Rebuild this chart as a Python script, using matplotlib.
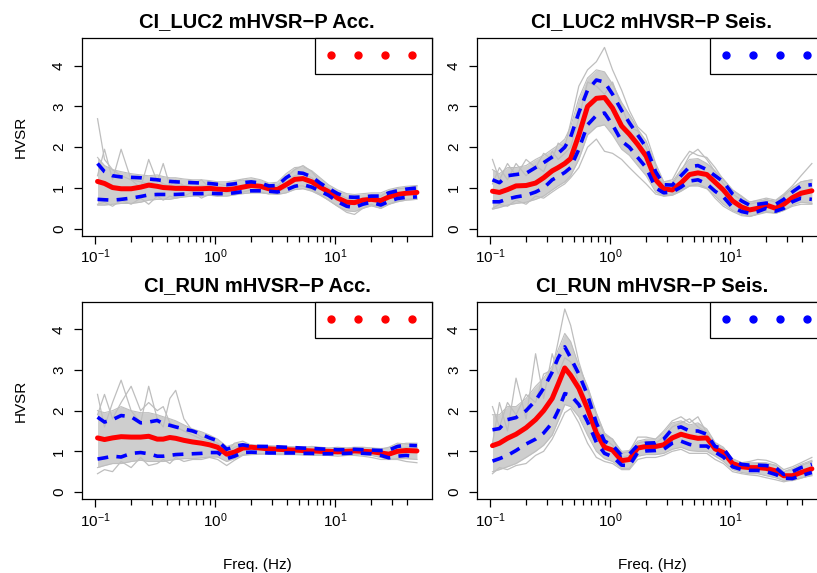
import matplotlib
matplotlib.use('Agg')
import matplotlib.pyplot as plt
from matplotlib.lines import Line2D
from matplotlib.ticker import FixedLocator, NullFormatter, LogFormatterSciNotation

plt.rcParams['font.family'] = ['Liberation Sans', 'DejaVu Sans']
plt.rcParams['mathtext.fontset'] = 'custom'
plt.rcParams['mathtext.rm'] = 'Liberation Sans'
plt.rcParams['mathtext.it'] = 'Liberation Sans:italic'
plt.rcParams['mathtext.bf'] = 'Liberation Sans:bold'

#%% data
freq = [0.105, 0.12, 0.14, 0.165, 0.2, 0.24, 0.28, 0.33, 0.37, 0.42, 0.47, 0.55, 0.65,
        0.77, 0.9, 1.05, 1.25, 1.45, 1.7, 2.0, 2.4, 2.8, 3.3, 3.9, 4.6, 5.4, 6.4, 7.5,
        8.8, 10.5, 12.5, 14.5, 17, 20, 24, 28, 33, 39, 48]

titles = ['CI_LUC2 mHVSR\u2212P Acc.', 'CI_LUC2 mHVSR\u2212P Seis.',
          'CI_RUN mHVSR\u2212P Acc.', 'CI_RUN mHVSR\u2212P Seis.']
legend_colors = ['red', 'blue', 'red', 'blue']

# CI_LUC2 acc
luc2_acc_mean = [1.16, 1.11, 1.01, 0.98, 0.98, 1.02, 1.07, 1.04, 1.01, 1.0, 0.99, 0.99, 0.98, 0.98, 0.99, 0.97, 0.96, 0.98, 1.02, 1.06, 1.04, 0.98, 0.96, 1.08, 1.21, 1.23, 1.15, 1.02, 0.91, 0.75, 0.65, 0.64, 0.70, 0.72, 0.69, 0.78, 0.84, 0.87, 0.89]
luc2_acc_up = [1.60, 1.40, 1.30, 1.27, 1.26, 1.25, 1.22, 1.20, 1.18, 1.16, 1.15, 1.14, 1.13, 1.12, 1.11, 1.09, 1.08, 1.10, 1.13, 1.15, 1.12, 1.05, 1.06, 1.25, 1.38, 1.36, 1.27, 1.12, 0.99, 0.86, 0.78, 0.77, 0.78, 0.80, 0.80, 0.88, 0.93, 0.97, 1.0]
luc2_acc_lo = [0.72, 0.71, 0.70, 0.72, 0.75, 0.79, 0.83, 0.84, 0.84, 0.84, 0.84, 0.85, 0.86, 0.86, 0.87, 0.86, 0.86, 0.88, 0.91, 0.93, 0.93, 0.92, 0.90, 0.95, 1.04, 1.08, 1.02, 0.92, 0.82, 0.66, 0.55, 0.52, 0.60, 0.65, 0.58, 0.67, 0.74, 0.77, 0.78]
luc2_acc_band_hi = [1.75, 1.55, 1.45, 1.4, 1.35, 1.32, 1.3, 1.32, 1.28, 1.25, 1.25, 1.22, 1.2, 1.2, 1.18, 1.15, 1.15, 1.18, 1.22, 1.25, 1.2, 1.12, 1.14, 1.35, 1.5, 1.52, 1.42, 1.25, 1.08, 0.95, 0.86, 0.84, 0.86, 0.88, 0.88, 0.96, 1.01, 1.04, 1.06]
luc2_acc_band_lo = [0.58, 0.58, 0.6, 0.62, 0.62, 0.65, 0.7, 0.72, 0.72, 0.72, 0.75, 0.78, 0.8, 0.8, 0.82, 0.8, 0.8, 0.83, 0.86, 0.88, 0.88, 0.86, 0.84, 0.88, 0.96, 0.98, 0.92, 0.82, 0.7, 0.55, 0.44, 0.42, 0.5, 0.56, 0.5, 0.6, 0.66, 0.7, 0.72]
luc2_acc_gray = [
    [2.7, 1.7, 1.45, 1.3, 1.2, 1.15, 1.1, 1.2, 1.1, 1.05, 1.08, 1.05, 1.0, 1.05, 1.05, 1.0, 0.98, 1.0, 1.05, 1.1, 1.05, 0.98, 1.0, 1.15, 1.3, 1.35, 1.25, 1.05, 0.95, 0.8, 0.68, 0.68, 0.75, 0.78, 0.72, 0.82, 0.88, 0.9, 0.92],
    [1.3, 1.95, 1.2, 1.95, 1.2, 1.0, 1.7, 1.15, 1.6, 1.05, 1.2, 1.05, 1.1, 1.2, 1.0, 1.1, 1.05, 1.15, 1.2, 1.1, 1.08, 1.05, 1.05, 1.25, 1.45, 1.55, 1.4, 1.15, 1.0, 0.85, 0.75, 0.7, 0.75, 0.8, 0.8, 0.92, 0.98, 1.0, 1.05],
    [0.6, 0.65, 0.55, 0.7, 0.6, 0.75, 0.6, 0.8, 0.7, 0.8, 0.75, 0.8, 0.9, 0.75, 0.85, 0.8, 0.9, 0.85, 0.9, 0.95, 0.9, 0.85, 0.9, 1.0, 1.05, 1.05, 0.95, 0.85, 0.7, 0.55, 0.4, 0.35, 0.5, 0.6, 0.5, 0.6, 0.68, 0.72, 0.75],
]

# CI_LUC2 seis
luc2_seis_mean = [0.92, 0.89, 0.96, 1.05, 1.06, 1.12, 1.25, 1.42, 1.5, 1.6, 1.72, 2.3, 3.0, 3.2, 3.22, 2.96, 2.52, 2.32, 2.07, 1.78, 1.2, 0.98, 0.95, 1.12, 1.33, 1.37, 1.33, 1.14, 0.95, 0.68, 0.53, 0.46, 0.5, 0.58, 0.5, 0.6, 0.76, 0.87, 0.93]
luc2_seis_up = [1.2, 1.13, 1.3, 1.33, 1.36, 1.5, 1.62, 1.76, 1.85, 2.0, 2.25, 2.85, 3.4, 3.65, 3.6, 3.3, 2.9, 2.6, 2.3, 2.0, 1.4, 1.08, 1.07, 1.3, 1.52, 1.55, 1.45, 1.3, 1.15, 0.85, 0.68, 0.58, 0.6, 0.63, 0.6, 0.72, 0.9, 1.05, 1.08]
luc2_seis_lo = [0.66, 0.66, 0.73, 0.78, 0.82, 0.9, 1.0, 1.2, 1.28, 1.38, 1.5, 1.95, 2.55, 2.78, 2.84, 2.55, 2.15, 2.0, 1.75, 1.5, 1.0, 0.88, 0.9, 1.02, 1.17, 1.2, 1.1, 0.92, 0.78, 0.52, 0.42, 0.38, 0.42, 0.5, 0.43, 0.5, 0.66, 0.75, 0.72]
luc2_seis_band_hi = [1.45, 1.35, 1.5, 1.5, 1.55, 1.7, 1.8, 1.95, 2.05, 2.2, 2.5, 3.2, 3.7, 3.9, 3.85, 3.55, 3.1, 2.8, 2.45, 2.15, 1.55, 1.15, 1.15, 1.45, 1.7, 1.72, 1.6, 1.42, 1.22, 0.95, 0.78, 0.66, 0.68, 0.7, 0.68, 0.82, 1.0, 1.15, 1.2]
luc2_seis_band_lo = [0.48, 0.52, 0.58, 0.62, 0.65, 0.72, 0.8, 0.95, 1.05, 1.15, 1.3, 1.7, 2.3, 2.5, 2.55, 2.3, 1.95, 1.8, 1.55, 1.3, 0.9, 0.8, 0.82, 0.92, 1.05, 1.05, 0.98, 0.8, 0.6, 0.45, 0.35, 0.3, 0.36, 0.42, 0.38, 0.45, 0.58, 0.65, 0.62]
luc2_seis_gray = [
    [1.7, 1.2, 1.6, 1.3, 1.7, 1.5, 1.85, 1.7, 2.1, 2.0, 2.6, 3.5, 3.9, 4.1, 4.45, 3.9, 3.4, 2.9, 2.5, 2.3, 1.6, 1.15, 1.2, 1.6, 1.9, 1.8, 1.75, 1.5, 1.2, 0.95, 0.8, 0.65, 0.7, 0.75, 0.7, 0.85, 1.05, 1.3, 1.6],
    [0.5, 0.6, 0.55, 0.7, 0.6, 0.8, 0.75, 0.9, 1.0, 1.1, 1.25, 1.5, 2.0, 2.2, 1.9, 1.85, 1.7, 1.5, 1.3, 1.1, 0.85, 0.8, 0.85, 0.95, 1.05, 1.1, 1.0, 0.75, 0.55, 0.42, 0.32, 0.3, 0.35, 0.4, 0.38, 0.45, 0.55, 0.6, 0.6],
    [1.1, 1.5, 1.2, 1.6, 1.3, 1.55, 1.4, 1.9, 1.7, 1.85, 2.0, 2.7, 3.6, 3.5, 3.3, 3.6, 3.0, 2.5, 2.4, 2.0, 1.3, 1.1, 1.1, 1.4, 1.8, 1.95, 1.7, 1.4, 1.1, 0.85, 0.7, 0.6, 0.65, 0.72, 0.65, 0.8, 1.0, 1.15, 1.2],
]

# CI_RUN acc
run_acc_mean = [1.33, 1.29, 1.33, 1.36, 1.35, 1.35, 1.37, 1.3, 1.3, 1.34, 1.32, 1.27, 1.23, 1.2, 1.16, 1.1, 0.93, 0.98, 1.08, 1.1, 1.08, 1.06, 1.05, 1.04, 1.03, 1.02, 1.01, 1.0, 1.0, 0.99, 1.0, 1.01, 1.0, 0.99, 0.96, 0.93, 1.0, 1.02, 1.01]
run_acc_up = [1.84, 1.72, 1.78, 1.88, 1.85, 1.7, 1.72, 1.76, 1.68, 1.64, 1.6, 1.55, 1.5, 1.42, 1.33, 1.26, 1.05, 1.12, 1.16, 1.12, 1.12, 1.12, 1.11, 1.1, 1.09, 1.08, 1.07, 1.06, 1.05, 1.04, 1.04, 1.05, 1.04, 1.03, 1.02, 1.03, 1.12, 1.15, 1.14]
run_acc_lo = [0.81, 0.84, 0.88, 0.86, 0.95, 0.97, 0.94, 0.88, 0.88, 0.9, 0.92, 0.93, 0.94, 0.95, 0.97, 0.97, 0.82, 0.88, 0.97, 0.98, 0.97, 0.96, 0.96, 0.96, 0.96, 0.95, 0.95, 0.94, 0.94, 0.94, 0.95, 0.96, 0.95, 0.94, 0.9, 0.84, 0.88, 0.9, 0.87]
run_acc_band_hi = [2.0, 1.95, 2.0, 2.1, 2.0, 1.95, 1.95, 1.9, 1.85, 1.8, 1.75, 1.65, 1.55, 1.48, 1.4, 1.3, 1.12, 1.18, 1.2, 1.16, 1.15, 1.14, 1.13, 1.12, 1.11, 1.1, 1.1, 1.09, 1.08, 1.08, 1.08, 1.08, 1.08, 1.08, 1.07, 1.08, 1.16, 1.2, 1.2]
run_acc_band_lo = [0.6, 0.65, 0.7, 0.7, 0.75, 0.78, 0.75, 0.75, 0.75, 0.78, 0.8, 0.82, 0.82, 0.84, 0.86, 0.86, 0.75, 0.82, 0.92, 0.94, 0.94, 0.94, 0.94, 0.93, 0.93, 0.93, 0.92, 0.92, 0.92, 0.92, 0.93, 0.93, 0.92, 0.9, 0.85, 0.8, 0.82, 0.82, 0.8]
run_acc_gray = [
    [2.4, 1.6, 2.2, 2.75, 2.0, 1.7, 2.6, 1.8, 1.6, 2.3, 2.5, 1.8, 1.5, 1.35, 1.3, 1.2, 1.0, 1.2, 1.25, 1.15, 1.12, 1.1, 1.1, 1.12, 1.1, 1.1, 1.12, 1.1, 1.08, 1.1, 1.08, 1.1, 1.1, 1.08, 1.05, 1.1, 1.2, 1.18, 1.15],
    [1.9, 2.4, 1.8, 2.2, 2.6, 2.0, 2.2, 2.0, 2.1, 1.7, 1.6, 1.5, 1.4, 1.3, 1.25, 1.2, 0.95, 1.1, 1.15, 1.12, 1.1, 1.1, 1.08, 1.07, 1.06, 1.05, 1.04, 1.04, 1.03, 1.02, 1.03, 1.04, 1.03, 1.02, 0.98, 0.95, 1.05, 1.1, 1.1],
    [0.45, 0.55, 0.5, 0.75, 0.6, 0.85, 0.65, 0.7, 0.8, 0.7, 0.85, 0.75, 0.8, 0.8, 0.85, 0.8, 0.65, 0.78, 0.9, 0.92, 0.93, 0.93, 0.92, 0.92, 0.92, 0.91, 0.9, 0.9, 0.9, 0.88, 0.9, 0.9, 0.88, 0.85, 0.8, 0.8, 0.8, 0.75, 0.72],
]

# CI_RUN seis
run_seis_mean = [1.14, 1.2, 1.32, 1.42, 1.58, 1.78, 2.0, 2.3, 2.65, 3.05, 2.87, 2.55, 2.05, 1.45, 1.1, 1.03, 0.77, 0.8, 1.08, 1.12, 1.12, 1.16, 1.33, 1.42, 1.36, 1.32, 1.33, 1.06, 0.97, 0.7, 0.62, 0.6, 0.6, 0.58, 0.52, 0.4, 0.4, 0.48, 0.57]
run_seis_up = [1.53, 1.56, 1.78, 1.83, 2.0, 2.25, 2.55, 2.95, 3.3, 3.57, 3.3, 2.9, 2.38, 1.7, 1.25, 1.15, 0.9, 0.93, 1.15, 1.2, 1.21, 1.3, 1.55, 1.6, 1.5, 1.5, 1.42, 1.12, 1.07, 0.76, 0.68, 0.66, 0.66, 0.65, 0.6, 0.43, 0.5, 0.6, 0.68]
run_seis_lo = [0.76, 0.82, 0.9, 1.02, 1.18, 1.3, 1.45, 1.7, 2.0, 2.42, 2.38, 2.15, 1.73, 1.22, 0.95, 0.87, 0.66, 0.65, 0.97, 1.01, 1.02, 1.05, 1.2, 1.25, 1.17, 1.13, 1.13, 0.98, 0.86, 0.62, 0.55, 0.53, 0.53, 0.5, 0.43, 0.34, 0.33, 0.4, 0.48]
run_seis_band_hi = [1.9, 1.9, 2.1, 2.1, 2.3, 2.6, 2.8, 3.1, 3.5, 3.9, 3.7, 3.1, 2.6, 1.95, 1.45, 1.3, 1.0, 1.02, 1.25, 1.3, 1.3, 1.45, 1.7, 1.75, 1.65, 1.7, 1.55, 1.22, 1.1, 0.82, 0.72, 0.72, 0.72, 0.72, 0.66, 0.5, 0.58, 0.68, 0.78]
run_seis_band_lo = [0.5, 0.55, 0.62, 0.7, 0.85, 1.0, 1.15, 1.4, 1.75, 2.15, 2.1, 1.85, 1.4, 1.0, 0.82, 0.75, 0.58, 0.58, 0.88, 0.92, 0.92, 0.95, 1.05, 1.1, 1.02, 1.0, 1.0, 0.88, 0.75, 0.55, 0.48, 0.45, 0.45, 0.4, 0.35, 0.28, 0.28, 0.34, 0.42]
run_seis_gray = [
    [2.1, 1.6, 2.2, 1.9, 2.4, 2.2, 2.9, 3.0, 3.7, 4.5, 4.1, 3.2, 2.5, 1.9, 1.4, 1.3, 0.95, 1.0, 1.35, 1.35, 1.3, 1.5, 1.75, 1.85, 1.7, 1.85, 1.45, 1.15, 1.05, 0.8, 0.72, 0.75, 0.8, 0.78, 0.7, 0.55, 0.62, 0.72, 0.85],
    [1.2, 2.2, 1.5, 2.8, 1.8, 3.4, 2.3, 3.4, 2.9, 3.3, 3.2, 2.7, 2.2, 1.6, 1.3, 1.15, 0.85, 0.9, 1.2, 1.25, 1.2, 1.35, 1.6, 1.7, 1.8, 1.6, 1.45, 1.15, 1.0, 0.75, 0.68, 0.68, 0.7, 0.7, 0.65, 0.5, 0.55, 0.65, 0.75],
    [0.45, 0.6, 0.55, 0.65, 0.7, 0.9, 1.0, 1.3, 1.6, 1.95, 2.05, 1.7, 1.2, 0.85, 0.75, 0.7, 0.55, 0.55, 0.8, 0.85, 0.85, 0.9, 1.0, 1.05, 0.95, 0.95, 0.95, 0.8, 0.7, 0.5, 0.45, 0.42, 0.4, 0.35, 0.3, 0.25, 0.3, 0.35, 0.4],
]

panels = [
    (luc2_acc_mean, luc2_acc_up, luc2_acc_lo, luc2_acc_band_lo, luc2_acc_band_hi, luc2_acc_gray),
    (luc2_seis_mean, luc2_seis_up, luc2_seis_lo, luc2_seis_band_lo, luc2_seis_band_hi, luc2_seis_gray),
    (run_acc_mean, run_acc_up, run_acc_lo, run_acc_band_lo, run_acc_band_hi, run_acc_gray),
    (run_seis_mean, run_seis_up, run_seis_lo, run_seis_band_lo, run_seis_band_hi, run_seis_gray),
]

#%% figure
fig = plt.figure(figsize=(8.17, 5.73), dpi=100)
# right column runs past the edge of the picture, as in the original
rects = [[0.1004, 0.5881, 0.4284, 0.3455], [0.5838, 0.5881, 0.4284, 0.3455],
         [0.1004, 0.1286, 0.4284, 0.3449], [0.5838, 0.1286, 0.4284, 0.3449]]

minor = [0.2, 0.3, 0.4, 0.5, 0.6, 0.7, 0.8, 0.9, 2, 3, 4, 5, 6, 7, 8, 9, 20, 30, 40]

for i, (rect, p) in enumerate(zip(rects, panels)):
    mean, up, lo, band_lo, band_hi, gray = p
    ax = fig.add_axes(rect)
    ax.set_xscale('log')

    ax.fill_between(freq, band_lo, band_hi, color='#cecece', lw=0, zorder=1)
    ax.plot(freq, band_lo, color='#bebebe', lw=0.8, zorder=1)
    ax.plot(freq, band_hi, color='#bebebe', lw=0.8, zorder=1)
    for g in gray:
        ax.plot(freq, g, color='#bebebe', lw=0.9, zorder=1)
    ax.plot(freq, mean, color='red', lw=3.6, solid_joinstyle='round',
            solid_capstyle='round', zorder=3)
    ax.plot(freq, up, color='blue', lw=2.6, ls=(0, (3, 2.3)), zorder=4)
    ax.plot(freq, lo, color='blue', lw=2.6, ls=(0, (3, 2.3)), zorder=4)

    ax.set_xlim(10 ** -1.108, 10 ** 1.807)
    ax.set_ylim(-0.18, 4.68)
    ax.xaxis.set_major_locator(FixedLocator([0.1, 1, 10]))
    ax.xaxis.set_major_formatter(LogFormatterSciNotation())
    ax.xaxis.set_minor_locator(FixedLocator(minor))
    ax.xaxis.set_minor_formatter(NullFormatter())
    ax.set_yticks([0, 1, 2, 3, 4])
    ax.tick_params(which='major', length=5.5, width=0.9, labelsize=11, color='black')
    ax.tick_params(which='minor', length=4, width=0.9)
    ax.tick_params(axis='x', pad=3)
    ax.tick_params(axis='y', pad=6, labelrotation=90)
    for lab in ax.get_yticklabels():
        lab.set_va('center')
    for s in ax.spines.values():
        s.set_linewidth(0.9)
        s.set_color('black')

    ax.set_title(titles[i], fontsize=14.5, fontweight='bold', pad=8)
    if i % 2 == 0:
        ax.set_ylabel('HVSR', fontsize=11)
        ax.yaxis.set_label_coords(-0.155, 0.5)
    if i >= 2:
        ax.set_xlabel('Freq. (Hz)', fontsize=11)
        ax.xaxis.set_label_coords(0.5, -0.295)

    handles = [Line2D([], [], ls='none', marker='o', color=legend_colors[i], ms=5)
               for _ in range(4)]
    leg = ax.legend(handles, [''] * 4, ncol=4, loc='upper right', bbox_to_anchor=(1, 1),
                    borderaxespad=0, frameon=True, fancybox=False, edgecolor='black',
                    framealpha=1, fontsize=10, handlelength=0.6, handletextpad=0.35,
                    columnspacing=1.0, borderpad=0.8)
    leg.get_frame().set_linewidth(0.9)
    leg.set_zorder(10)

fig.savefig('out.png', dpi=100)
